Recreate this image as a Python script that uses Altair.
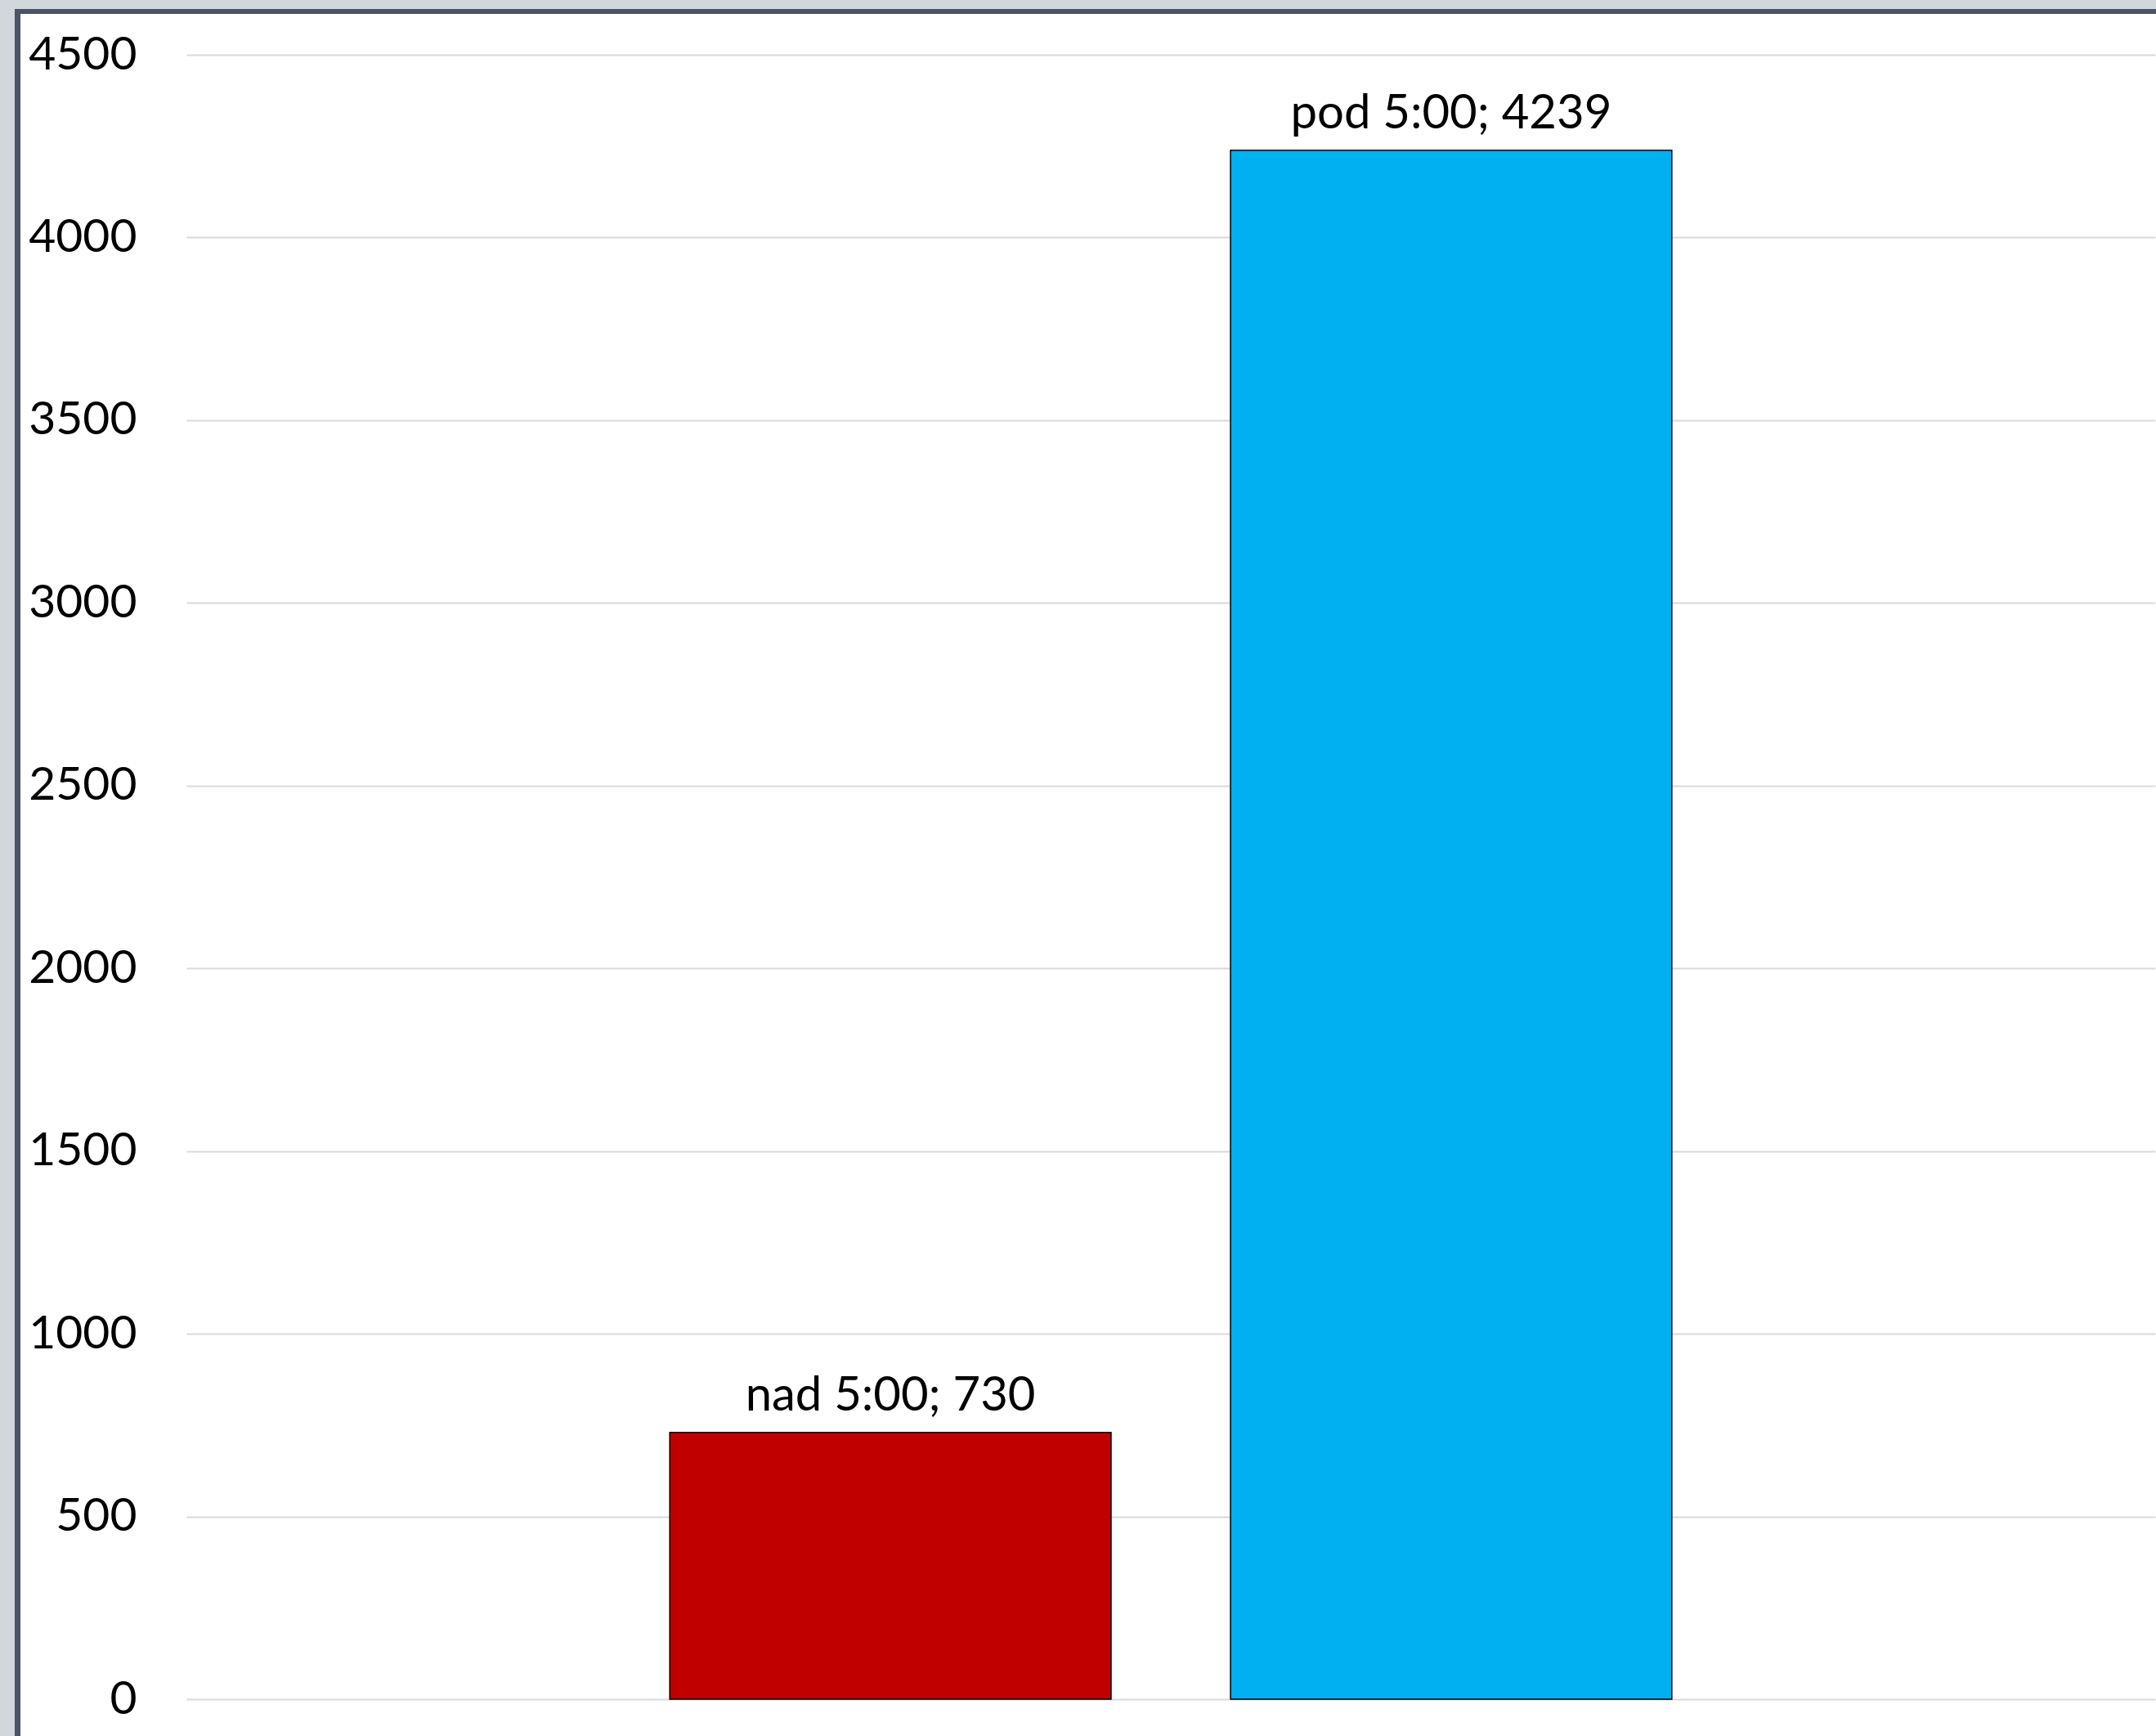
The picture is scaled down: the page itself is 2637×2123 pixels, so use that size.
import altair as alt
import pandas as pd

# Data
categories = ["nad 5:00", "pod 5:00"]
values = [730, 4239]
bar_colors = ["#C00000", "#00B0F0"]
y_ticks = [0, 500, 1000, 1500, 2000, 2500, 3000, 3500, 4000, 4500]

df = pd.DataFrame({
    "cat": categories,
    "val": values,
    "label": [f"{c}; {v}" for c, v in zip(categories, values)],
})

FONT = "Lato"
W, H = 2408, 2011
LEFT, TOP = 228, 67

x_enc = alt.X("cat:N", axis=None, sort=categories,
              scale=alt.Scale(paddingInner=0.213, paddingOuter=0.862))
y_enc = alt.Y("val:Q",
              scale=alt.Scale(domain=[0, 4500], nice=False, zero=True),
              axis=alt.Axis(values=y_ticks, title=None, domain=False, ticks=False,
                            format="d",
                            labelFont=FONT, labelFontSize=57, labelColor="#000000",
                            labelPadding=61, labelBaseline="middle",
                            grid=True, gridColor="#d9d9d9", gridWidth=2))

bars = alt.Chart(df).mark_bar(stroke="#000000", strokeWidth=1.5).encode(
    x=x_enc,
    y=y_enc,
    color=alt.Color("cat:N", scale=alt.Scale(domain=categories, range=bar_colors), legend=None),
)

labels = alt.Chart(df).mark_text(font=FONT, fontSize=58, color="#000000",
                                 baseline="alphabetic", dy=-27).encode(
    x=x_enc,
    y=alt.Y("val:Q"),
    text="label:N",
)

one = alt.Data(values=[{}])

def frame(x1, x2, y1, y2, color):
    return alt.Chart(one).mark_rect(color=color).encode(
        x=alt.value(x1 - LEFT), x2=alt.value(x2 - LEFT),
        y=alt.value(y1 - TOP), y2=alt.value(y2 - TOP),
    )

GRAY = "#d2d7dc"
DARK = "#4a5265"
decor = [
    frame(0, 2637, 0, 11, GRAY),
    frame(0, 18, 0, 2123, GRAY),
    frame(18, 2637, 11, 17, DARK),
    frame(18, 25, 11, 2123, DARK),
]

chart = alt.layer(bars, labels, *decor).properties(
    width=W, height=H,
    autosize=alt.AutoSizeParams(type="none"),
    padding={"left": LEFT, "top": TOP, "right": 2637 - LEFT - W, "bottom": 2123 - TOP - H},
    background="#ffffff",
).configure_view(stroke=None)

chart.save("out.html", embed_options={"renderer": "svg", "actions": False})
